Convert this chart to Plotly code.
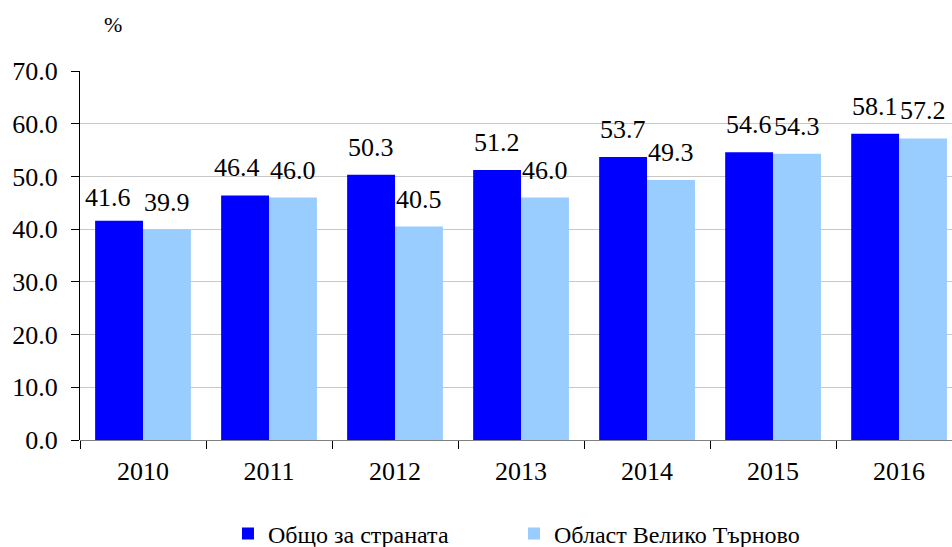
import plotly.graph_objects as go

years = ["2010", "2011", "2012", "2013", "2014", "2015", "2016"]
country = [41.6, 46.4, 50.3, 51.2, 53.7, 54.6, 58.1]
region = [39.9, 46.0, 40.5, 46.0, 49.3, 54.3, 57.2]
y_ticks = [0, 10, 20, 30, 40, 50, 60, 70]
y_tick_text = ["0.0", "10.0", "20.0", "30.0", "40.0", "50.0", "60.0", "70.0"]

FONT = "Liberation Serif"

# small label nudges (pixels) for labels the reference moved sideways
country_label_nudge = {0: (-11, -4), 1: (-8, 0)}

fig = go.Figure()
fig.add_trace(go.Bar(
    x=years, y=country, name="Общо за страната", legend="legend",
    marker=dict(color="#0000FF", line=dict(width=0)),
))
fig.add_trace(go.Bar(
    x=years, y=region, name="Област Велико Търново", legend="legend2",
    marker=dict(color="#99CCFF", line=dict(width=0)),
))

annotations = []
for series, shift, nudges in ((country, -24, country_label_nudge), (region, 24, {})):
    for i, v in enumerate(series):
        dx, dy = nudges.get(i, (0, 0))
        annotations.append(dict(
            x=i, y=v, xref="x", yref="y", text=f"{v:.1f}", showarrow=False,
            xshift=shift + dx, yshift=11 + dy, xanchor="center", yanchor="bottom",
            font=dict(size=26, family=FONT, color="black"),
        ))

annotations.append(dict(
    text="%", xref="paper", yref="paper", x=(113 - 80) / 872, y=1 + (71 - 25) / 369,
    showarrow=False, font=dict(size=22, family=FONT, color="black"),
    xanchor="center", yanchor="middle",
))

legend_common = dict(
    orientation="h", yref="container", y=(547 - 534) / 547, yanchor="middle", xanchor="left",
    font=dict(size=24, family=FONT, color="black"), itemwidth=30,
    bgcolor="rgba(0,0,0,0)",
)

fig.update_layout(
    width=952, height=547,
    margin=dict(l=80, r=0, t=71, b=107),
    paper_bgcolor="white", plot_bgcolor="white",
    font=dict(family=FONT, size=26, color="black"),
    barmode="group", bargap=0.24, bargroupgap=0,
    showlegend=True,
    legend=dict(x=0.1697, **legend_common),
    legend2=dict(x=0.4977, **legend_common),
    xaxis=dict(
        type="category", range=[-0.5, 6.42],
        tickson="boundaries", ticks="outside", ticklen=8, tickcolor="black",
        showline=False, showgrid=False, zeroline=False, ticklabelstandoff=13,
        tickfont=dict(size=26, family=FONT, color="black"),
    ),
    yaxis=dict(
        range=[0, 70], tickvals=y_ticks, ticktext=y_tick_text,
        ticks="outside", ticklen=8, tickcolor="black", ticklabelstandoff=8,
        showline=True, linecolor="black", linewidth=1,
        showgrid=True, gridcolor="#C8C8C8", gridwidth=1,
        zeroline=True, zerolinecolor="#808080", zerolinewidth=1,
        tickfont=dict(size=26, family=FONT, color="black"),
    ),
    annotations=annotations,
)

fig.write_html("out.html", config={"displayModeBar": False},
               post_script="document.body.style.margin='0';")
